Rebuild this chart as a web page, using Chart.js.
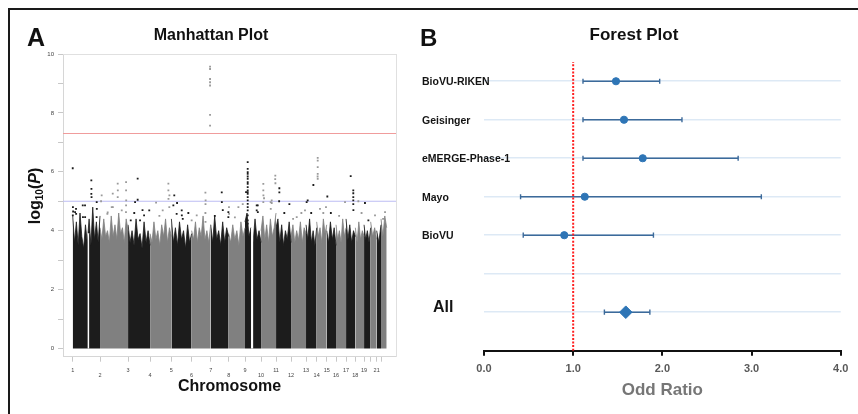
<!DOCTYPE html>
<html>
<head>
<meta charset="utf-8">
<script src="https://cdn.jsdelivr.net/npm/chart.js@4.4.1/dist/chart.umd.min.js"></script>
<style>
  html, body { margin: 0; padding: 0; background: #fff; }
  #fig { position: relative; width: 858px; height: 414px; overflow: hidden; font-family: "Liberation Sans", Arial, sans-serif; }
  #frame { position: absolute; left: 8px; top: 8px; width: 900px; height: 440px; border-top: 2px solid #1a1a1a; border-left: 2px solid #1a1a1a; }
  canvas { position: absolute; top: 0; }
  #manhattan { left: 0; }
  #forest { left: 420px; }
  .txt { position: absolute; font-weight: bold; color: #111; white-space: nowrap; }
  #letterA { left: 27px; top: 25px; font-size: 25px; line-height: 25px; }
  #letterB { left: 420px; top: 26px; font-size: 24px; line-height: 24px; }
  #titleA { left: 111px; top: 27px; width: 200px; text-align: center; font-size: 16px; line-height: 16px; }
  #titleB { left: 534px; top: 26px; width: 200px; text-align: center; font-size: 17px; line-height: 17px; }
  #ylabA { left: -15px; top: 186px; width: 100px; height: 20px; line-height: 20px; text-align: center; font-size: 16px; transform: rotate(-90deg); }
  #ylabA sub { font-size: 10px; vertical-align: -3px; line-height: 0; }
</style>
</head>
<body>
<div id="fig">
  <div id="frame"></div>
  <canvas id="manhattan" width="420" height="414"></canvas>
  <canvas id="forest" width="438" height="414"></canvas>
  <div class="txt" id="letterA">A</div>
  <div class="txt" id="letterB">B</div>
  <div class="txt" id="titleA">Manhattan Plot</div>
  <div class="txt" id="titleB">Forest Plot</div>
  <div class="txt" id="ylabA">log<sub>10</sub>(<i>P</i>)</div>
</div>
<script>
// ---- Manhattan plot data ----
// plotted span of each chromosome (Mb of genotyped positions)
const chrSpan = [264, 271, 213, 206, 196, 184, 174, 158, 155, 145, 145, 145, 103, 97, 90, 97, 90, 84, 64, 58, 42, 55];
const chrTickLabels = ['1', '2', '3', '4', '5', '6', '7', '8', '9', '10', '11', '12', '13', '14', '15', '16', '17', '18', '19', '', '21', ''];

// top of the dense cloud of SNPs, sampled along each chromosome (-log10 P)
const envelope = [
    [4.5, 3.6, 4.3, 3.5, 4.6, 3.8, 3.4, 4.2, 3.6, 4.4, 3.5, 4.8, 3.7, 4.3, 3.6, 4.5],
    [4.1, 3.7, 4.4, 3.8, 4.0, 3.6, 4.5, 3.8, 4.2, 3.7, 4.6, 3.9, 4.1, 3.6, 4.4, 4.0],
    [4.2, 3.6, 4.0, 3.5, 4.4, 3.7, 3.9, 3.4, 4.3, 3.6, 4.0, 3.5],
    [3.9, 3.6, 4.3, 3.7, 4.0, 3.5, 4.2, 3.8, 4.4, 3.6, 4.1, 3.8],
    [4.4, 3.6, 4.1, 3.5, 4.3, 3.7, 4.0, 3.4, 4.2, 3.6, 3.9],
    [4.0, 3.7, 4.3, 3.6, 4.1, 3.8, 4.5, 3.7, 4.0, 3.6, 4.2],
    [4.2, 3.6, 4.5, 3.7, 4.0, 3.5, 4.3, 3.6, 4.1, 3.8],
    [3.9, 3.6, 4.2, 3.7, 4.0, 3.5, 4.3, 3.8, 4.1],
    [4.3, 4.6, 3.8, 4.1, 3.6, 4.4, 3.7, 4.0, 3.6],
    [4.0, 4.5, 3.7, 4.2, 3.6, 4.4, 3.8, 4.1, 4.6],
    [4.1, 4.4, 3.6, 4.2, 3.5, 4.0, 3.7, 4.3, 3.6],
    [3.8, 4.2, 3.6, 4.0, 3.7, 4.3, 3.6, 4.1, 3.9],
    [4.2, 3.7, 4.4, 3.6, 4.0, 3.5, 4.1],
    [4.3, 3.8, 4.1, 3.6, 4.4, 3.9, 4.2],
    [4.0, 3.6, 4.3, 3.7, 4.1, 3.5],
    [4.2, 3.7, 4.0, 3.6, 4.4, 3.8, 4.1],
    [4.4, 3.7, 4.2, 3.6, 4.0, 3.8],
    [4.1, 3.6, 4.3, 3.7, 4.0, 3.8],
    [4.2, 3.7, 4.0, 3.6, 4.1],
    [4.3, 3.8, 4.1, 3.7],
    [4.0, 3.6, 4.2],
    [4.4, 3.8, 4.5, 4.1]
];

// regions without markers: [chromosome, from Mb, to Mb, height]
const gaps = [[1, 142, 161, 3.9], [9, 58, 81, 4.1]];

// individual SNPs above the cloud: [chromosome, Mb from chromosome start, -log10 P]
const hits = [
    [1, 0, 6.12], [1, 2, 4.80], [1, 4, 4.65], [1, 1, 4.52], [1, 23, 4.63], [1, 32, 4.74], [1, 33, 4.57],
    [1, 97, 4.86], [1, 99, 4.46], [1, 119, 4.86], [1, 120, 4.46], [1, 180, 5.71], [1, 181, 5.42],
    [1, 180, 5.25], [1, 182, 5.14], [1, 232, 4.97], [1, 233, 4.74], [1, 231, 4.46],
    [2, 10, 5.0], [2, 16, 5.2], [2, 71, 4.57], [2, 74, 4.62], [2, 113, 4.8], [2, 123, 5.26], [2, 124, 4.80],
    [2, 171, 5.6], [2, 172, 5.37], [2, 171, 5.14], [2, 210, 4.69], [2, 252, 5.65], [2, 252, 5.37],
    [2, 253, 5.03], [2, 252, 4.86], [2, 251, 4.63],
    [3, 26, 4.35], [3, 60, 4.6], [3, 68, 4.97], [3, 93, 5.77], [3, 93, 5.05], [3, 116, 4.35],
    [3, 140, 4.7], [3, 155, 4.52], [3, 205, 4.69],
    [4, 58, 4.95], [4, 90, 4.5], [4, 122, 4.69], [4, 177, 5.6], [4, 177, 5.37], [4, 178, 5.08],
    [4, 187, 5.2], [4, 186, 4.8],
    [5, 19, 4.86], [5, 28, 5.2], [5, 51, 4.57], [5, 55, 4.94], [5, 100, 4.69], [5, 101, 4.52],
    [5, 110, 4.4], [5, 164, 4.6],
    [6, 0, 4.35], [6, 49, 4.52], [6, 133, 5.29], [6, 135, 5.03], [6, 134, 4.9], [6, 133, 4.6],
    [6, 134, 4.3], [6, 178, 9.57], [6, 178, 9.49], [6, 178, 9.15], [6, 178, 9.04], [6, 178, 8.93],
    [6, 178, 7.93], [6, 178, 7.57],
    [7, 40, 4.5], [7, 107, 5.3], [7, 108, 4.97], [7, 117, 4.7], [7, 171, 4.63], [7, 171, 4.46],
    [8, 3, 4.8], [8, 4, 4.57], [8, 60, 4.45], [8, 94, 4.8], [8, 136, 4.9],
    [9, 10, 5.31], [9, 26, 6.33], [9, 26, 6.10], [9, 26, 5.99], [9, 26, 5.93], [9, 26, 5.84],
    [9, 26, 5.76], [9, 26, 5.65], [9, 26, 5.59], [9, 26, 5.48], [9, 26, 5.37], [9, 26, 5.31],
    [9, 26, 5.25], [9, 26, 5.14], [9, 26, 5.03], [9, 26, 4.91], [9, 26, 4.80], [9, 26, 4.69],
    [9, 26, 4.52], [9, 26, 4.35], [9, 26, 4.24], [9, 113, 4.86], [9, 113, 4.69], [9, 123, 4.86],
    [9, 124, 4.63],
    [10, 22, 5.59], [10, 22, 5.37], [10, 23, 5.2], [10, 22, 4.97], [10, 29, 5.1], [10, 93, 4.97],
    [10, 94, 4.74], [10, 103, 5.03], [10, 103, 4.94], [10, 138, 5.87], [10, 137, 5.75], [10, 139, 5.61],
    [11, 32, 5.44], [11, 32, 5.3], [11, 30, 5.0], [11, 80, 4.6], [11, 129, 4.9],
    [12, 20, 4.4], [12, 55, 4.46], [12, 100, 4.6], [12, 135, 4.69],
    [13, 6, 4.97], [13, 16, 5.03], [13, 50, 4.6], [13, 71, 5.55],
    [14, 10, 6.47], [14, 10, 6.38], [14, 10, 6.16], [14, 10, 5.93], [14, 9, 5.84], [14, 10, 5.76],
    [14, 32, 4.74], [14, 64, 4.6], [14, 90, 4.8],
    [15, 6, 5.16], [15, 40, 4.6],
    [16, 30, 4.5], [16, 87, 4.97],
    [17, 45, 5.85], [17, 70, 5.37], [17, 70, 5.27], [17, 70, 5.14], [17, 70, 5.03], [17, 70, 4.9], [17, 71, 4.7],
    [18, 29, 5.0], [18, 60, 4.6],
    [19, 9, 4.94], [19, 42, 4.35],
    [20, 42, 4.52],
    [22, 20, 4.4], [22, 39, 4.63]
];

const genomeWideLine = 7.3;
const suggestiveLine = 5;

// ---- Forest plot data ----
const studies = ['BioVU-RIKEN', 'Geisinger', 'eMERGE-Phase-1', 'Mayo', 'BioVU'];
const studyOR = [1.48, 1.57, 1.78, 1.13, 0.90];
const studyLow = [1.11, 1.11, 1.11, 0.41, 0.44];
const studyHigh = [1.97, 2.22, 2.85, 3.11, 1.90];
const studyRow = [7, 6, 5, 4, 3];
const pooledLabel = 'All';
const pooledOR = 1.59;
const pooledLow = 1.35;
const pooledHigh = 1.86;
const pooledRow = 1;
const nullOR = 1;
const orTicks = [0, 1, 2, 3, 4];

const FONT = '"Liberation Sans", Arial, sans-serif';
const BLACK = '#1c1c1c';
const GRAY = '#808080';
const HIT_GRAY = '#9a9a9a';
const BLUE = '#2e75b6';
const CI_BLUE = '#3c6a9a';

// ---- Manhattan ----
const chrStart = [];
let acc = 0;
chrSpan.forEach((s) => {
    chrStart.push(acc);
    acc += s;
});
const genomeEnd = acc;
const xMin = -94;
const xMax = genomeEnd + 90;

const blockSets = envelope.map((h, i) => ({
    data: h.map((v, j) => ({ x: chrStart[i] + (chrSpan[i] * j) / (h.length - 1), y: v })),
    fill: 'origin',
    backgroundColor: i % 2 ? GRAY : BLACK,
    borderColor: i % 2 ? GRAY : BLACK,
    borderWidth: 0.8,
    pointRadius: 0,
    order: 2,
}));

const gapSets = gaps.map((g) => ({
    data: [
        { x: chrStart[g[0] - 1] + g[1], y: g[3] },
        { x: chrStart[g[0] - 1] + g[2], y: g[3] },
    ],
    fill: 'origin',
    backgroundColor: '#ffffff',
    borderColor: '#ffffff',
    borderWidth: 0.5,
    pointRadius: 0,
    order: 1,
}));

const hitSet = {
    data: hits.map((h) => ({ x: chrStart[h[0] - 1] + h[1], y: h[2] })),
    showLine: false,
    pointStyle: 'rect',
    pointRadius: 1.3,
    pointBorderWidth: 0,
    pointBackgroundColor: hits.map((h) => (h[0] % 2 ? BLACK : HIT_GRAY)),
    order: 0,
};

const thresholdSet = (value, color) => ({
    data: [{ x: xMin, y: value }, { x: xMax, y: value }],
    borderColor: color,
    borderWidth: 1.2,
    pointRadius: 0,
    fill: false,
    order: 3,
});

new Chart(document.getElementById('manhattan').getContext('2d'), {
    type: 'line',
    data: {
        datasets: [
            hitSet,
            ...gapSets,
            ...blockSets,
            thresholdSet(genomeWideLine, '#f09c9c'),
            thresholdSet(suggestiveLine, '#bcbcf3'),
        ],
    },
    options: {
        responsive: false,
        animation: false,
        layout: { padding: { top: 54, right: 24, left: 0, bottom: 0 } },
        plugins: { legend: { display: false }, tooltip: { enabled: false } },
        scales: {
            x: {
                type: 'linear',
                min: xMin,
                max: xMax,
                afterBuildTicks: (axis) => {
                    axis.ticks = chrStart.map((v) => ({ value: v }));
                },
                afterFit: (scale) => {
                    scale.height = 57.3;
                },
                grid: { drawOnChartArea: false, tickLength: 5, color: '#c8c8c8' },
                border: { color: '#d6d6d6' },
                ticks: {
                    autoSkip: false,
                    maxRotation: 0,
                    padding: 5.8,
                    color: '#444',
                    font: { family: FONT, size: 5.5, lineHeight: 1 },
                    callback: (value, index) => (index % 2 ? ['', chrTickLabels[index]] : chrTickLabels[index]),
                },
                title: {
                    display: true,
                    text: 'Chromosome',
                    color: '#111',
                    font: { family: FONT, size: 16, weight: 'bold' },
                    padding: { top: 0, bottom: 17.7 },
                },
            },
            y: {
                type: 'linear',
                min: -0.28,
                max: 10,
                afterFit: (scale) => {
                    scale.width = 63;
                },
                grid: { drawOnChartArea: false, tickLength: 5, color: '#c8c8c8' },
                border: { color: '#d6d6d6' },
                ticks: {
                    stepSize: 1,
                    includeBounds: false,
                    padding: 4,
                    color: '#444',
                    font: { family: FONT, size: 6 },
                    callback: (v) => (v % 2 === 0 ? String(v) : ''),
                },
            },
            xTop: {
                type: 'linear',
                position: 'top',
                afterFit: (scale) => {
                    scale.height = 0;
                },
                grid: { display: false },
                ticks: { display: false },
                border: { color: '#e0e0e0' },
            },
            yRight: {
                type: 'linear',
                position: 'right',
                afterFit: (scale) => {
                    scale.width = 0;
                },
                grid: { display: false },
                ticks: { display: false },
                border: { color: '#e0e0e0' },
            },
        },
    },
});

// ---- Forest ----
const ciSet = (lo, hi, row) => ({
    data: [{ x: lo, y: row }, { x: hi, y: row }],
    showLine: true,
    borderColor: CI_BLUE,
    borderWidth: 1.6,
    pointStyle: 'line',
    rotation: 90,
    pointRadius: 2.6,
    pointBorderColor: CI_BLUE,
    pointBorderWidth: 1.4,
    order: 3,
});

const rowLabels = {
    id: 'rowLabels',
    afterDraw(chart) {
        const { ctx } = chart;
        const y = chart.scales.y;
        ctx.save();
        ctx.fillStyle = '#141414';
        ctx.textAlign = 'left';
        ctx.textBaseline = 'middle';
        ctx.font = `bold 10.5px ${FONT}`;
        studies.forEach((name, i) => {
            ctx.fillText(name, 2, y.getPixelForValue(studyRow[i]) + 1);
        });
        ctx.font = `bold 16px ${FONT}`;
        ctx.fillText(pooledLabel, 13, y.getPixelForValue(pooledRow) - 5);
        ctx.restore();
    },
};

new Chart(document.getElementById('forest').getContext('2d'), {
    type: 'scatter',
    data: {
        datasets: [
            {
                data: [{ x: pooledOR, y: pooledRow }],
                pointStyle: 'rectRot',
                pointRadius: 6.3,
                backgroundColor: BLUE,
                borderColor: BLUE,
                order: 0,
            },
            {
                data: studyOR.map((v, i) => ({ x: v, y: studyRow[i] })),
                pointRadius: 3.6,
                backgroundColor: BLUE,
                borderColor: BLUE,
                order: 1,
            },
            {
                data: [{ x: nullOR, y: 0 }, { x: nullOR, y: 7.5 }],
                showLine: true,
                borderColor: '#ff1f1f',
                borderWidth: 2,
                borderDash: [2, 1.6],
                pointRadius: 0,
                order: 2,
            },
            ...studyOR.map((v, i) => ciSet(studyLow[i], studyHigh[i], studyRow[i])),
            ciSet(pooledLow, pooledHigh, pooledRow),
        ],
    },
    options: {
        responsive: false,
        animation: false,
        layout: { padding: { top: 62, right: 17.3, left: 0, bottom: 0 } },
        plugins: { legend: { display: false }, tooltip: { enabled: false } },
        scales: {
            x: {
                type: 'linear',
                min: orTicks[0],
                max: orTicks[orTicks.length - 1],
                afterBuildTicks: (axis) => {
                    axis.ticks = orTicks.map((v) => ({ value: v }));
                },
                afterFit: (scale) => {
                    scale.height = 63.3;
                },
                grid: { drawOnChartArea: false, tickLength: 5, color: '#111', lineWidth: 2 },
                border: { color: '#111', width: 2 },
                ticks: {
                    padding: 7,
                    color: '#595959',
                    font: { family: FONT, size: 11, weight: 'bold' },
                    callback: (v) => v.toFixed(1),
                },
                title: {
                    display: true,
                    text: 'Odd Ratio',
                    color: '#767676',
                    font: { family: FONT, size: 17, weight: 'bold' },
                    padding: { top: 0, bottom: 13.5 },
                },
            },
            y: {
                type: 'linear',
                min: 0,
                max: 7.5,
                afterFit: (scale) => {
                    scale.width = 64;
                },
                grid: {
                    drawTicks: false,
                    lineWidth: 1.5,
                    color: (c) => (c.tick && c.tick.value === 0 ? 'rgba(0,0,0,0)' : '#dde9f5'),
                },
                border: { display: false },
                ticks: { stepSize: 1, includeBounds: false, display: false },
            },
        },
    },
    plugins: [rowLabels],
});
</script>
</body>
</html>
